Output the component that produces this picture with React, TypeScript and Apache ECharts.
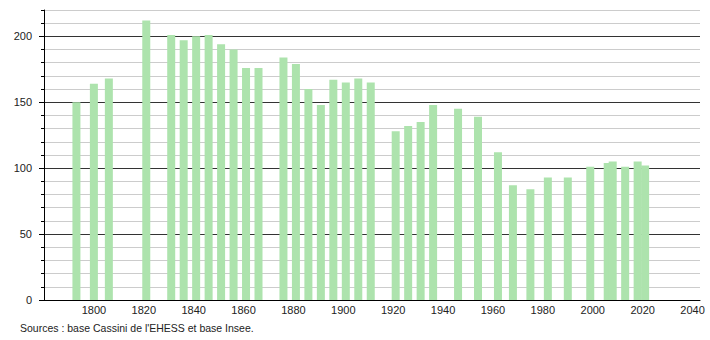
import React, { useEffect, useRef } from "react";
import * as echarts from "echarts";

const years = [
  1793, 1800, 1806, 1821, 1831, 1836, 1841, 1846, 1851, 1856, 1861, 1866,
  1876, 1881, 1886, 1891, 1896, 1901, 1906, 1911, 1921, 1926, 1931, 1936,
  1946, 1954, 1962, 1968, 1975, 1982, 1990, 1999, 2006, 2008, 2013, 2018, 2021,
];
const population = [
  150, 164, 168, 212, 201, 197, 200, 201, 194, 190, 176, 176,
  184, 179, 160, 148, 167, 165, 168, 165, 128, 132, 135, 148,
  145, 139, 112, 87, 84, 93, 93, 101, 104, 105, 101, 105, 102,
];
const xTickLabels = [1800, 1820, 1840, 1860, 1880, 1900, 1920, 1940, 1960, 1980, 2000, 2020, 2040];
const yTickLabels = [0, 50, 100, 150, 200];
const sourceText = "Sources : base Cassini de l'EHESS et base Insee.";

const FONT = "'Liberation Sans', Arial, sans-serif";

export default function App() {
  const ref = useRef<HTMLDivElement>(null);
  useEffect(() => {
    if (!ref.current) return;
    const chart = echarts.init(ref.current, null, { renderer: "svg" });
    const splitColors: string[] = [];
    for (let v = 0; v <= 220; v += 10) splitColors.push(v % 50 === 0 ? "#333333" : "#cccccc");
    chart.setOption({
      animation: false,
      backgroundColor: "#ffffff",
      textStyle: { fontFamily: FONT },
      grid: { left: 44, right: 10, top: 10, bottom: 40, containLabel: false },
      xAxis: {
        type: "value",
        min: 1780,
        max: 2043,
        interval: 20,
        z: 5,
        axisLine: { show: true, lineStyle: { color: "#000", width: 1 } },
        axisTick: { show: false },
        splitLine: { show: false },
        axisLabel: {
          customValues: xTickLabels,
          formatter: (v: number) => String(v),
          color: "#222",
          fontSize: 11,
          fontFamily: FONT,
          margin: 4,
        },
      },
      yAxis: [
        {
          type: "value",
          min: 0,
          max: 220,
          interval: 10,
          position: "left",
          z: 5,
          axisLine: { show: true, lineStyle: { color: "#000", width: 1 } },
          axisTick: { show: true, customValues: yTickLabels, length: 5, lineStyle: { color: "#000" } },
          splitLine: { show: false },
          axisLabel: {
            customValues: yTickLabels,
            formatter: (v: number) => String(v),
            color: "#222",
            fontSize: 11,
            fontFamily: FONT,
            margin: 12,
          },
        },
        {
          type: "value",
          min: 0,
          max: 220,
          interval: 10,
          position: "left",
          axisLine: { show: false },
          axisTick: { show: true, length: 3, lineStyle: { color: "#000" } },
          splitLine: { show: true, showMinLine: true, lineStyle: { color: splitColors, width: 1 } },
          axisLabel: { show: false },
        },
      ],
      graphic: [
        {
          type: "text",
          left: 20,
          top: 322,
          style: { text: sourceText, fontSize: 10.5, fontFamily: FONT, fill: "#222" },
        },
      ],
      series: [
        {
          type: "bar",
          yAxisIndex: 0,
          barWidth: 8,
          itemStyle: { color: "#ade3ad" },
          data: years.map((y, i) => [y, population[i]]),
        },
      ],
    });
    return () => chart.dispose();
  }, []);
  return (
    <div
      ref={ref}
      style={{ position: "fixed", left: 0, top: 0, width: 710, height: 340 }}
    />
  );
}
